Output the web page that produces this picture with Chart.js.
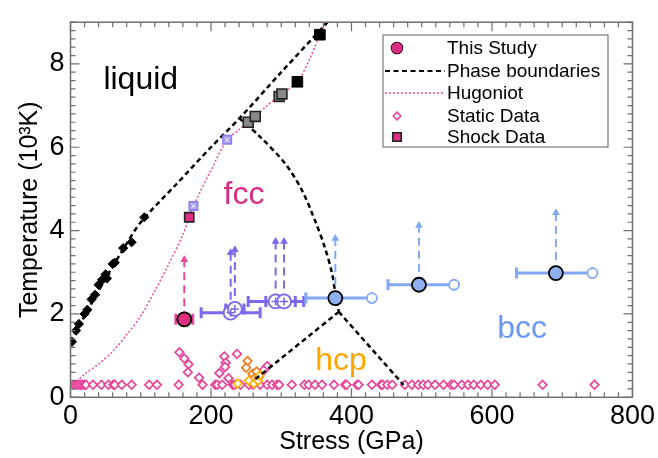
<!DOCTYPE html>
<html>
<head>
<meta charset="utf-8">
<script src="https://cdn.jsdelivr.net/npm/chart.js@4.4.0/dist/chart.umd.min.js"></script>
<style>
  html, body { margin: 0; padding: 0; background: #fff; }
</style>
</head>
<body>
<canvas id="c" width="658" height="458"></canvas>
<script>
const FONT = "'Liberation Sans', Arial, Helvetica, sans-serif";

const xTicks = [0, 200, 400, 600, 800];
const yTicks = [0, 2, 4, 6, 8];

// phase boundaries (GPa, 10^3 K)
const meltP = [0, 25, 50, 75, 100, 150, 200, 242, 300, 366];
const meltT = [1.33, 2.1, 2.85, 3.55, 4.2, 5.1, 6.0, 6.72, 7.8, 9.0];
const fccBccP = [240, 270, 306, 330, 349, 362, 372, 377, 382];
const fccBccT = [6.7, 6.25, 5.6, 4.95, 4.2, 3.6, 3.0, 2.5, 2.05];
const hcpBccP = [382, 474];
const hcpBccT = [2.05, 0.3];
const fccHcpP = [382, 262];
const fccHcpT = [2.05, 0.42];

// hugoniot
const hugP = [0, 20, 40, 60, 80, 100, 120, 140, 160, 169, 175, 200, 223, 240, 253, 263, 280, 299, 323, 340, 355, 363];
const hugT = [0.25, 0.55, 0.8, 1.1, 1.5, 1.95, 2.55, 3.2, 3.9, 4.32, 4.59, 5.45, 6.18, 6.42, 6.6, 6.74, 7.0, 7.25, 7.57, 8.1, 8.7, 9.0];

// static melt points (black diamonds)
const meltDataP = [2, 8, 12, 20, 24, 30, 35, 40, 45, 50, 52, 60, 63, 75, 87, 105];
const meltDataT = [1.33, 1.6, 1.76, 2.0, 2.1, 2.35, 2.46, 2.7, 2.82, 2.95, 2.85, 3.2, 3.23, 3.58, 3.72, 4.32];

// static data (pink diamonds)
const staticP = [5, 8, 11, 14, 17, 20, 22, 32, 44, 54, 61, 63, 73, 87, 112, 123, 154, 188, 206, 209,
  216, 231, 234, 242, 254, 260, 270, 280, 287, 294, 297, 315, 333, 339, 348, 358, 375, 391, 393, 408,
  410, 429, 442, 444, 451, 458, 476, 486, 495, 502, 509, 519, 531, 542, 546, 557, 566, 574, 584, 594,
  604, 672, 746,
  155, 162, 168, 167, 183, 219, 221, 220, 212, 225, 237, 280, 275];
const staticT = [0.3, 0.3, 0.3, 0.3, 0.3, 0.3, 0.3, 0.3, 0.3, 0.3, 0.3, 0.3, 0.3, 0.3, 0.3, 0.3, 0.3, 0.3, 0.3, 0.3,
  0.3, 0.3, 0.3, 0.3, 0.3, 0.3, 0.3, 0.3, 0.3, 0.3, 0.3, 0.3, 0.3, 0.3, 0.3, 0.3, 0.3, 0.3, 0.3, 0.3,
  0.3, 0.3, 0.3, 0.3, 0.3, 0.3, 0.3, 0.3, 0.3, 0.3, 0.3, 0.3, 0.3, 0.3, 0.3, 0.3, 0.3, 0.3, 0.3, 0.3,
  0.3, 0.3, 0.3,
  1.08, 0.93, 0.79, 0.60, 0.47, 0.98, 0.83, 0.73, 0.58, 0.46, 1.04, 0.75, 0.65];
const orangeP = [252, 250, 259, 265, 261, 268];
const orangeT = [0.87, 0.71, 0.56, 0.62, 0.44, 0.48];
const yellowP = [238, 254, 261, 267, 269];
const yellowT = [0.33, 0.40, 0.33, 0.40, 0.52];

// shock data
const shockBlackP = [323, 355];
const shockBlackT = [7.57, 8.70];
const shockGreyP = [253, 263, 297, 301];
const shockGreyT = [6.60, 6.74, 7.22, 7.28];
const shockCrossP = [175, 223];
const shockCrossT = [4.59, 6.18];
const shockPinkP = [169];
const shockPinkT = [4.32];

// this study: point, error bar ends, arrow top
const pinkP = [162], pinkT = [1.87], pinkLo = [150], pinkHi = [174], pinkTop = [3.3];
const purpleP = [228, 234, 292, 304];
const purpleT = [2.03, 2.12, 2.30, 2.30];
const purpleLo = [186, 221, 253, 278];
const purpleHi = [270, 247, 320, 332];
const purpleTop = [3.47, 3.54, 3.74, 3.74];
const blueP = [377, 496, 691];
const blueT = [2.38, 2.70, 2.98];
const blueLo = [335, 452, 635];
const blueHi = [429, 546, 743];
const blueTop = [3.81, 4.12, 4.43];

const PINK = '#DD2E82';
const PINK_LT = '#E8449A';
const PURPLE = '#7B68EE';
const BLUE = '#82A8F5';
const BLUE_FILL = '#8FB0EE';

const pts = (xs, ys) => xs.map((x, i) => ({ x, y: ys[i] }));

function boundary(xs, ys) {
    return {
        data: pts(xs, ys), showLine: true, pointRadius: 0,
        borderColor: '#000', borderWidth: 2.5, borderDash: [5, 3.5], tension: 0.3,
    };
}

function markers(xs, ys, style, radius, fill, stroke, width) {
    return {
        data: pts(xs, ys), showLine: false, pointStyle: style, pointRadius: radius,
        backgroundColor: fill, borderColor: stroke, pointBorderWidth: width, borderWidth: width,
    };
}

function studySets(P, T, lo, hi, top, color, fill, hollowEnd, crossed) {
    const sets = [];
    P.forEach((p, i) => {
        sets.push({
            data: [{ x: p, y: T[i] }, { x: p, y: top[i] }], showLine: true,
            borderColor: color, borderWidth: 2, borderDash: [8, 5],
            pointStyle: 'triangle', pointRadius: [0, 4.5], backgroundColor: color, pointBorderWidth: 0,
        });
        sets.push({
            data: [{ x: lo[i], y: T[i] }, { x: hi[i], y: T[i] }], showLine: true,
            borderColor: color, borderWidth: 3,
            pointStyle: 'line', rotation: 90, pointRadius: 5.5, pointBorderWidth: 3,
            pointBorderColor: color,
        });
    });
    if (hollowEnd) sets.push(markers(hi, T, 'circle', 5, '#fff', color, 1.8));
    if (crossed) {
        sets.push(markers(P, T, 'circle', 7, '#fff', color, 1.8));
        sets.push(markers(P, T, 'cross', 4, color, color, 1.6));
    } else {
        sets.push(markers(P, T, 'circle', 7, fill, '#000', 1.8));
    }
    return sets;
}

// bottom to top
const layers = [
    markers(staticP, staticT, 'rectRot', 4.3, '#fff', PINK_LT, 1.7),
    markers(orangeP, orangeT, 'rectRot', 4.3, '#fff', '#F07A1E', 1.7),
    markers(yellowP, yellowT, 'rectRot', 4.3, '#fff', '#FFB000', 1.7),
    { data: pts(hugP, hugT), showLine: true, pointRadius: 0, borderColor: '#EE4C9C', borderWidth: 1.5, borderDash: [2, 2], tension: 0.3 },
    boundary(meltP, meltT),
    boundary(fccBccP, fccBccT),
    boundary(hcpBccP, hcpBccT),
    boundary(fccHcpP, fccHcpT),
    markers(meltDataP, meltDataT, 'rectRot', 4.6, '#000', '#000', 1),
    markers(shockGreyP, shockGreyT, 'rect', 7, '#888', '#222', 1.6),
    markers(shockBlackP, shockBlackT, 'rect', 7.5, '#000', '#000', 1),
    markers(shockCrossP, shockCrossT, 'rect', 6, '#A89CF5', '#8E80F0', 1.5),
    markers(shockCrossP, shockCrossT, 'crossRot', 3.2, '#fff', '#fff', 1),
    markers(shockPinkP, shockPinkT, 'rect', 6.5, PINK, '#222', 1.6),
    ...studySets(purpleP, purpleT, purpleLo, purpleHi, purpleTop, PURPLE, '#fff', false, true),
    ...studySets(blueP, blueT, blueLo, blueHi, blueTop, BLUE, BLUE_FILL, true, false),
    ...studySets(pinkP, pinkT, pinkLo, pinkHi, pinkTop, PINK_LT, PINK, false, false),
];
const datasets = layers.slice().reverse();

const frame = {
    id: 'frame',
    afterDatasetsDraw(chart) {
        const { ctx, chartArea: a, scales: { x, y } } = chart;
        ctx.save();
        ctx.strokeStyle = '#6e6e6e';
        ctx.lineWidth = 1.5;
        ctx.strokeRect(a.left, a.top, a.right - a.left, a.bottom - a.top);
        ctx.lineWidth = 1.2;
        ctx.beginPath();
        for (let i = 0; i <= 40; i++) {
            const px = x.getPixelForValue(i * 20);
            const len = i % 10 === 0 ? 9 : 5;
            ctx.moveTo(px, a.bottom); ctx.lineTo(px, a.bottom - len);
            ctx.moveTo(px, a.top); ctx.lineTo(px, a.top + len);
        }
        for (let i = 0; i <= 45; i++) {
            const py = y.getPixelForValue(i * 0.2);
            const len = i % 10 === 0 ? 9 : 5;
            ctx.moveTo(a.left, py); ctx.lineTo(a.left + len, py);
            ctx.moveTo(a.right, py); ctx.lineTo(a.right - len, py);
        }
        ctx.stroke();

        // phase region labels
        ctx.textAlign = 'center';
        ctx.textBaseline = 'middle';
        const label = (t, p, T, color) => {
            ctx.fillStyle = color;
            ctx.font = `32px ${FONT}`;
            ctx.fillText(t, x.getPixelForValue(p), y.getPixelForValue(T));
        };
        label('liquid', 100, 7.6, '#000');
        label('fcc', 247, 4.84, '#DC2A80');
        label('hcp', 385, 0.86, '#FFA500');
        label('bcc', 643, 1.64, '#6A98F2');
        ctx.restore();
    },
    afterDraw(chart) {
        const { ctx } = chart;
        const H = Chart.helpers;
        ctx.save();
        ctx.fillStyle = '#fff';
        ctx.strokeStyle = '#777';
        ctx.lineWidth = 1.2;
        ctx.fillRect(383, 35, 225, 112);
        ctx.strokeRect(383, 35, 225, 112);

        ctx.font = `19px ${FONT}`;
        ctx.fillStyle = '#000';
        ctx.textAlign = 'left';
        ctx.textBaseline = 'middle';
        const rows = [48, 71, 93, 116, 137];
        const names = ['This Study', 'Phase boundaries', 'Hugoniot', 'Static Data', 'Shock Data'];
        names.forEach((n, i) => ctx.fillText(n, 447, rows[i] + 1));

        ctx.fillStyle = PINK; ctx.strokeStyle = '#000'; ctx.lineWidth = 1.6;
        H.drawPoint(ctx, { pointStyle: 'circle', radius: 5.5, borderWidth: 1.6 }, 397, rows[0]);
        ctx.fill();

        ctx.beginPath();
        ctx.setLineDash([5, 3.5]); ctx.lineWidth = 2.2; ctx.strokeStyle = '#000';
        ctx.moveTo(385, rows[1]); ctx.lineTo(445, rows[1]); ctx.stroke();
        ctx.beginPath();
        ctx.setLineDash([2, 2]); ctx.lineWidth = 1.5; ctx.strokeStyle = '#EE4C9C';
        ctx.moveTo(385, rows[2]); ctx.lineTo(445, rows[2]); ctx.stroke();
        ctx.setLineDash([]);

        ctx.fillStyle = '#fff'; ctx.strokeStyle = PINK_LT; ctx.lineWidth = 1.6;
        H.drawPoint(ctx, { pointStyle: 'rectRot', radius: 3.8, borderWidth: 1.6 }, 397, rows[3]);
        ctx.fillStyle = PINK; ctx.strokeStyle = '#222';
        H.drawPoint(ctx, { pointStyle: 'rect', radius: 6, borderWidth: 1.6 }, 397, rows[4]);
        ctx.restore();
    }
};

new Chart(document.getElementById('c').getContext('2d'), {
    type: 'scatter',
    data: { datasets },
    options: {
        responsive: false,
        animation: false,
        layout: { padding: { top: 10, right: 22, left: 0, bottom: 0 } },
        scales: {
            x: {
                type: 'linear', min: 0, max: 800,
                afterBuildTicks: s => { s.ticks = xTicks.map(v => ({ value: v })); },
                afterFit: s => { s.height = 60.7; },
                grid: { display: false, drawTicks: false },
                border: { display: false },
                ticks: { color: '#000', padding: 3, font: { family: FONT, size: 27 } },
                title: { display: true, text: 'Stress (GPa)', color: '#000', padding: { top: 0, bottom: 1 }, font: { family: FONT, size: 25 } },
            },
            y: {
                type: 'linear', min: 0, max: 9,
                afterBuildTicks: s => { s.ticks = yTicks.map(v => ({ value: v })); },
                afterFit: s => { s.width = 70.5; },
                grid: { display: false, drawTicks: false },
                border: { display: false },
                ticks: { color: '#000', padding: 6, font: { family: FONT, size: 27 } },
                title: { display: true, text: 'Temperature (10³K)', color: '#000', padding: { top: 15, bottom: 0 }, font: { family: FONT, size: 25 } },
            },
        },
        plugins: {
            legend: { display: false },
            tooltip: { enabled: false },
        },
    },
    plugins: [frame],
});
</script>
</body>
</html>
